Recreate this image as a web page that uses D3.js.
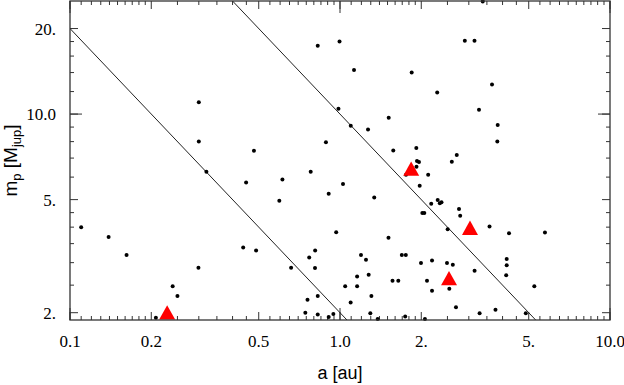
<!DOCTYPE html>
<html>
<head>
<meta charset="utf-8">
<script src="https://cdn.jsdelivr.net/npm/d3@7"></script>
<style>
  body { margin: 0; background: #fff; }
  svg { display: block; }
</style>
</head>
<body>
<svg id="chart" width="624" height="385"></svg>
<script>
// semi-major axis a [au] and planet mass m_p [M_jup] of the black dots
var dotA = [0.110, 0.139, 0.162, 0.208, 0.240, 0.250, 0.300, 0.300, 0.299, 0.320,
  0.449, 0.480, 0.438, 0.489, 0.612, 0.596, 0.659, 0.779, 0.827, 0.809,
  0.769, 0.808, 0.758, 0.827, 0.744, 0.827, 0.908, 0.945, 0.908, 0.968,
  0.996, 0.987, 0.887, 1.026, 1.127, 1.843, 2.291, 1.515, 1.096, 1.270,
  1.575, 1.917, 1.928, 1.961, 2.595, 2.707, 2.899, 3.149, 3.378, 3.656,
  3.272, 3.838, 3.825, 1.920, 1.756, 2.121, 1.973, 1.339, 2.301, 2.177,
  2.342, 2.376, 2.018, 2.052, 2.759, 2.787, 2.505, 1.512, 1.196, 1.248,
  1.694, 1.753, 1.995, 2.192, 2.490, 2.617, 3.151, 1.157, 1.277, 1.565,
  1.644, 2.100, 1.045, 1.157, 1.307, 2.192, 2.540, 1.095, 2.689, 1.295,
  1.379, 1.744, 2.063, 3.579, 4.226, 5.743, 4.144, 4.144, 4.126, 5.244,
  3.289, 3.766, 4.877];
var dotM = [4.00, 3.69, 3.19, 1.92, 2.48, 2.29, 11.0, 8.00, 2.88, 6.27,
  5.74, 7.43, 3.39, 3.31, 5.88, 4.95, 2.88, 6.27, 17.4, 3.31,
  3.13, 2.87, 2.22, 2.29, 2.00, 1.97, 1.93, 1.98, 5.24, 3.84,
  18.0, 10.45, 7.96, 5.68, 14.3, 14.0, 11.9, 9.70, 9.09, 8.82,
  7.44, 7.59, 6.84, 6.78, 6.79, 7.18, 18.1, 18.1, 24.9, 12.7,
  10.35, 9.15, 8.00, 6.53, 6.11, 6.11, 5.60, 5.09, 4.98, 4.84,
  4.85, 4.89, 4.49, 4.49, 4.63, 4.39, 3.93, 3.67, 3.19, 3.07,
  3.19, 3.19, 2.99, 3.05, 2.99, 2.95, 2.81, 2.68, 2.72, 2.59,
  2.59, 2.59, 2.48, 2.48, 2.29, 2.39, 2.43, 2.17, 2.09, 1.99,
  1.90, 1.94, 1.90, 4.02, 3.81, 3.83, 3.09, 2.94, 2.71, 2.48,
  1.99, 2.05, 1.99];

// red triangles
var triA = [0.229, 1.835, 3.030, 2.534];
var triM = [2.00, 6.41, 3.97, 2.64];

// the two diagonal guide lines (end points, clipped by the frame)
var guideLines = [
  [[0.08, 25.0], [1.2, 1.667]],
  [[0.35, 28.57], [6.0, 1.667]]
];

var xLabelVals = [0.1, 0.2, 0.5, 1, 2, 5, 10];
var xLabels = ["0.1", "0.2", "0.5", "1.0", "2.", "5.", "10.0"];
var yLabelVals = [2, 5, 10, 20];
var yLabels = ["2.", "5.", "10.0", "20."];

var xDecades = [0.1, 1, 10];
var yDecades = [10];

var xMinor = [].concat(
  d3.range(0.11, 0.195, 0.01),
  d3.range(0.25, 0.49, 0.05),
  d3.range(0.55, 0.99, 0.05),
  d3.range(1.1, 1.95, 0.1),
  d3.range(2.5, 4.9, 0.5),
  d3.range(5.5, 9.9, 0.5)
);
var yMinor = [2.5, 3, 3.5, 4, 4.5, 6, 7, 8, 9, 12, 14, 16, 18];

var pLeft = 70, pRight = 610, pTop = 1, pBottom = 320;

var svg = d3.select("#chart");

var x = d3.scaleLog().domain([0.1, 10]).range([pLeft, pRight]);
var y = d3.scaleLog().domain([1.885, 25]).range([pBottom, pTop]);

var tickCol = "#333";

svg.append("clipPath").attr("id", "plotclip")
  .append("rect")
  .attr("x", pLeft).attr("y", pTop)
  .attr("width", pRight - pLeft).attr("height", pBottom - pTop);

// ticks, drawn inward on all four sides
function xTicks(vals, len) {
  vals.forEach(function(v) {
    svg.append("line")
      .attr("x1", x(v)).attr("x2", x(v))
      .attr("y1", pBottom).attr("y2", pBottom - len)
      .attr("stroke", tickCol).attr("stroke-width", 1);
    svg.append("line")
      .attr("x1", x(v)).attr("x2", x(v))
      .attr("y1", pTop).attr("y2", pTop + len)
      .attr("stroke", tickCol).attr("stroke-width", 1);
  });
}
function yTicks(vals, len) {
  vals.forEach(function(v) {
    svg.append("line")
      .attr("x1", pLeft).attr("x2", pLeft + len)
      .attr("y1", y(v)).attr("y2", y(v))
      .attr("stroke", tickCol).attr("stroke-width", 1);
    svg.append("line")
      .attr("x1", pRight).attr("x2", pRight - len)
      .attr("y1", y(v)).attr("y2", y(v))
      .attr("stroke", tickCol).attr("stroke-width", 1);
  });
}
xTicks(xMinor, 4);
xTicks(xLabelVals, 8);
xTicks(xDecades, 12);
yTicks(yMinor, 4);
yTicks(yLabelVals, 8);
yTicks(yDecades, 12);

// guide lines
var line = d3.line()
  .x(function(d) { return x(d[0]); })
  .y(function(d) { return y(d[1]); });

svg.append("g").attr("clip-path", "url(#plotclip)")
  .selectAll("path")
  .data(guideLines)
  .enter().append("path")
  .attr("d", line)
  .attr("fill", "none")
  .attr("stroke", "#222")
  .attr("stroke-width", 1);

// dots
svg.append("g").selectAll("circle")
  .data(dotA)
  .enter().append("circle")
  .attr("cx", function(d) { return x(d); })
  .attr("cy", function(d, i) { return y(dotM[i]); })
  .attr("r", 2)
  .attr("fill", "#000");

// triangles
svg.append("g").selectAll("path")
  .data(triA)
  .enter().append("path")
  .attr("transform", function(d, i) { return "translate(" + x(d) + "," + y(triM[i]) + ")"; })
  .attr("d", "M0,-7.5 L8,6.8 L-8,6.8 Z")
  .attr("fill", "#ff0000");

// frame
svg.append("rect")
  .attr("x", pLeft).attr("y", pTop)
  .attr("width", pRight - pLeft).attr("height", pBottom - pTop)
  .attr("fill", "none")
  .attr("stroke", tickCol)
  .attr("stroke-width", 1.3);

// tick labels
svg.append("g").selectAll("text")
  .data(xLabelVals)
  .enter().append("text")
  .attr("x", function(d) { return x(d); })
  .attr("y", 347)
  .attr("text-anchor", "middle")
  .attr("font-family", "'Liberation Serif', 'Times New Roman', serif")
  .attr("font-size", 17)
  .text(function(d, i) { return xLabels[i]; });

svg.append("g").selectAll("text")
  .data(yLabelVals)
  .enter().append("text")
  .attr("x", 56)
  .attr("y", function(d) { return y(d) + 6; })
  .attr("text-anchor", "end")
  .attr("font-family", "'Liberation Serif', 'Times New Roman', serif")
  .attr("font-size", 17)
  .text(function(d, i) { return yLabels[i]; });

// axis titles
svg.append("text")
  .attr("x", (pLeft + pRight) / 2)
  .attr("y", 379)
  .attr("text-anchor", "middle")
  .attr("font-family", "'Liberation Sans', Arial, sans-serif")
  .attr("font-size", 18)
  .text("a [au]");

var yt = svg.append("text")
  .attr("transform", "translate(17," + ((pTop + pBottom) / 2) + ") rotate(-90)")
  .attr("text-anchor", "middle")
  .attr("font-family", "'Liberation Sans', Arial, sans-serif")
  .attr("font-size", 19);
yt.append("tspan").text("m");
yt.append("tspan").attr("font-size", 13).attr("dy", 4).text("p");
yt.append("tspan").attr("dy", -4).text(" [M");
yt.append("tspan").attr("font-size", 13).attr("dy", 4).text("jup");
yt.append("tspan").attr("dy", -4).text("]");
</script>
</body>
</html>
